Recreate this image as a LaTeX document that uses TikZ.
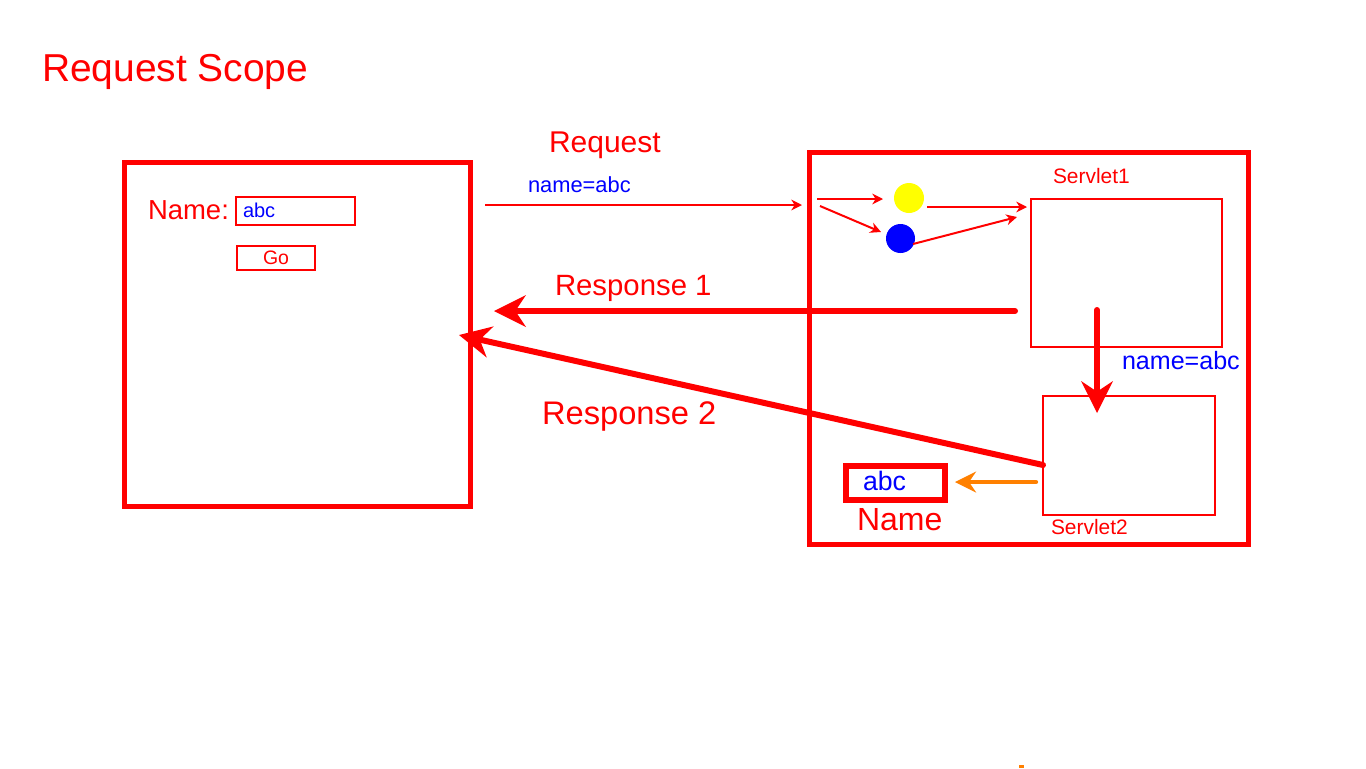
\documentclass[tikz,border=0pt]{standalone}
\usepackage{fontspec}
\setmainfont{Liberation Sans}
\usetikzlibrary{arrows.meta}
\definecolor{rd}{RGB}{255,0,0}
\definecolor{bl}{RGB}{0,0,255}
\definecolor{yl}{RGB}{255,255,0}
\definecolor{og}{RGB}{255,128,0}
\tikzset{
  box/.style={draw=rd, rectangle, inner sep=0pt, outer sep=0pt},
  txt/.style={inner sep=0pt, outer sep=0pt, anchor=base west},
  thinarr/.style={draw=rd, line width=1.5pt, -{Stealth[length=8pt,width=8pt,inset=2.5pt]}},
  thickarr/.style={draw=rd, line width=4.5pt, line cap=round, -{Stealth[length=24pt,width=24pt,inset=8pt,line width=0pt]}},
  orarr/.style={draw=og, line width=3.2pt, line cap=round, -{Stealth[length=16pt,width=16pt,inset=5.5pt,line width=0pt]}},
  dot/.style={circle, inner sep=0pt, outer sep=0pt}
}
\begin{document}
\begin{tikzpicture}[x=0.75pt,y=-0.75pt]
\useasboundingbox[fill=white] (0,0) rectangle (1366,768);

\node[txt, text=rd, font=\fontsize{29.2}{34}\selectfont] (title) at (42,81) {Request Scope};

% client page
\node[box, line width=3.75pt, minimum width=346*0.75pt, minimum height=344*0.75pt] (client) at (297.5,334) {};
\node[txt, text=rd, font=\fontsize{20.6}{24}\selectfont] (namelbl) at (148,219) {Name:};
\node[box, line width=1.5pt, minimum width=119*0.75pt, minimum height=28*0.75pt] (field) at (295.5,211) {};
\node[txt, text=bl, font=\fontsize{15}{18}\selectfont] (fieldtxt) at (243,217) {abc};
\node[box, line width=1.5pt, minimum width=78*0.75pt, minimum height=24*0.75pt, text=rd, font=\fontsize{14.6}{17}\selectfont] (go) at (276,258) {Go};

% request
\node[txt, text=rd, font=\fontsize{22.5}{26}\selectfont] (reqlbl) at (549,152) {Request};
\node[txt, text=bl, font=\fontsize{16.4}{19}\selectfont] (reqpar) at (528,192) {name=abc};

% server
\node[box, line width=3.75pt, minimum width=439*0.75pt, minimum height=392*0.75pt] (server) at (1029,348.5) {};
\node[box, line width=1.5pt, minimum width=191*0.75pt, minimum height=148*0.75pt] (s1) at (1126.5,273) {};
\node[box, line width=1.5pt, minimum width=172*0.75pt, minimum height=119*0.75pt] (s2) at (1129,455.5) {};
\node[txt, text=rd, font=\fontsize{15.7}{18}\selectfont] (s1lbl) at (1053,183) {Servlet1};
\node[txt, text=rd, font=\fontsize{15.7}{18}\selectfont] (s2lbl) at (1051,534) {Servlet2};
\node[txt, text=bl, font=\fontsize{18.8}{22}\selectfont] (fwdpar) at (1122,369) {name=abc};

\node[dot, fill=yl, minimum size=30*0.75pt] (yel) at (909,198) {};
\node[dot, fill=bl, minimum size=29*0.75pt] (blu) at (900.5,238.5) {};

\node[box, line width=4.5pt, minimum width=99*0.75pt, minimum height=34*0.75pt] (attr) at (895,482.5) {};
\node[txt, text=bl, font=\fontsize{20}{24}\selectfont] (attrtxt) at (863,490) {abc};
\node[txt, text=rd, font=\fontsize{24}{28}\selectfont] (attrlbl) at (857,530) {Name};

% response labels
\node[txt, text=rd, font=\fontsize{22}{26}\selectfont] (r1lbl) at (555,295) {Response 1};
\node[txt, text=rd, font=\fontsize{24.5}{29}\selectfont] (r2lbl) at (542,424) {Response 2};

% connector end points
\coordinate (reqA) at (485,205);
\coordinate (reqB) at (802,205);
\coordinate (inA) at (817,199);
\coordinate (inB) at (883,199);
\coordinate (inC) at (820,206);
\coordinate (inD) at (881,232);
\coordinate (yA) at (927,207);
\coordinate (yB) at (1027,207);
\coordinate (bA) at (913,244);
\coordinate (bB) at (1017,217);
\coordinate (r1A) at (1015,311);
\coordinate (r1B) at (494,311);
\coordinate (r2A) at (1043,465);
\coordinate (r2B) at (459,335);
\coordinate (dA) at (1097,310);
\coordinate (dB) at (1097,413);
\coordinate (oA) at (1036,482);
\coordinate (oB) at (955,482);

\draw[thinarr] (reqA) -- (reqB);
\draw[thinarr] (inA) -- (inB);
\draw[thinarr] (inC) -- (inD);
\draw[thinarr] (yA) -- (yB);
\draw[thinarr] (bA) -- (bB);
\draw[thickarr] (r1A) -- (r1B);
\draw[thickarr] (r2A) -- (r2B);
\draw[thickarr] (dA) -- (dB);
\draw[orarr] (oA) -- (oB);

% stray mark
\fill[og] (1019,765) rectangle (1024,768);
\end{tikzpicture}
\end{document}
